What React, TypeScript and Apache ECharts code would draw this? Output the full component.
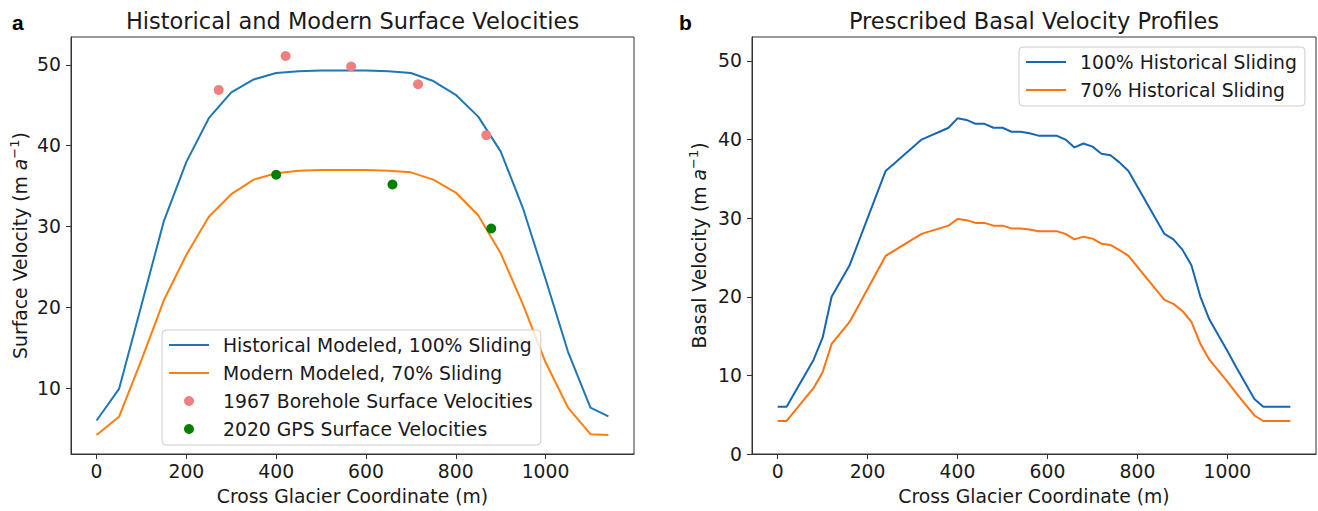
import React, { useEffect, useRef } from "react";
import * as echarts from "echarts";

// ---------- Panel a: surface velocities ----------
const surfX = [0, 50, 100, 150, 200, 250, 300, 350, 400, 450, 500, 550, 600, 650, 700, 750, 800, 850, 900, 950, 1000, 1050, 1100, 1140];
const historicalModeled = [6.0, 9.9, 20.3, 30.7, 38.0, 43.4, 46.6, 48.2, 49.0, 49.2, 49.3, 49.3, 49.3, 49.2, 49.0, 48.0, 46.3, 43.6, 39.3, 32.2, 23.5, 14.5, 7.6, 6.5];
const modernModeled = [4.2, 6.45, 13.5, 20.9, 26.5, 31.2, 34.0, 35.8, 36.6, 36.9, 37.0, 37.0, 37.0, 36.9, 36.7, 35.8, 34.2, 31.4, 26.7, 20.3, 13.2, 7.6, 4.3, 4.2];
const boreholeX = [272, 421, 567, 716, 868];
const boreholeV = [46.9, 51.1, 49.8, 47.6, 41.3];
const gpsX = [400, 659, 879];
const gpsV = [36.4, 35.2, 29.75];

// ---------- Panel b: basal velocities ----------
const basalX = [0, 20, 40, 60, 80, 100, 120, 140, 160, 180, 200, 220, 240, 260, 280, 300, 320, 340, 360, 380, 400, 420, 440, 460, 480, 500, 520, 540, 560, 580, 600, 620, 640, 660, 680, 700, 720, 740, 760, 780, 800, 820, 840, 860, 880, 900, 920, 940, 960, 980, 1000, 1020, 1040, 1060, 1080, 1100, 1120, 1140];
const basal100 = [6.0, 6.0, 8.0, 10.0, 12.0, 14.8, 20.0, 22.0, 24.0, 27.0, 30.0, 33.0, 36.0, 37.0, 38.0, 39.0, 40.0, 40.5, 41.0, 41.5, 42.7, 42.5, 42.0, 42.0, 41.5, 41.5, 41.0, 41.0, 40.8, 40.5, 40.5, 40.5, 40.0, 39.0, 39.5, 39.1, 38.2, 38.0, 37.1, 36.0, 34.0, 32.0, 30.0, 28.0, 27.3, 26.0, 24.0, 20.0, 17.1, 15.1, 13.1, 11.0, 9.0, 7.0, 6.0, 6.0, 6.0, 6.0];
const basal70 = [4.2, 4.2, 5.6, 7.0, 8.4, 10.4, 14.0, 15.4, 16.8, 18.9, 21.0, 23.1, 25.2, 25.9, 26.6, 27.3, 28.0, 28.35, 28.7, 29.05, 29.9, 29.75, 29.4, 29.4, 29.05, 29.05, 28.7, 28.7, 28.55, 28.35, 28.35, 28.35, 28.0, 27.3, 27.65, 27.4, 26.75, 26.6, 25.95, 25.2, 23.8, 22.4, 21.0, 19.6, 19.1, 18.2, 16.8, 14.0, 12.0, 10.6, 9.2, 7.7, 6.3, 4.9, 4.2, 4.2, 4.2, 4.2];

const xTicks = [0, 200, 400, 600, 800, 1000];
const yTicksA = [10, 20, 30, 40, 50];
const yTicksB = [0, 10, 20, 30, 40, 50];

const FONT = "DejaVu Sans";
const FS = 18.8;
const AX = "#333";
const TXT = "#1a1a1a";
const LINE_ICON = "path://M0,0L40,0L40,2L0,2Z";

const zip = (xs: number[], ys: number[]) => xs.map((x, i) => [x, ys[i]]);
const plain = (v: number) => String(v);

function xAxisCfg(gridIndex: number) {
  return {
    type: "value",
    gridIndex,
    min: -57,
    max: 1197,
    name: "Cross Glacier Coordinate (m)",
    nameLocation: "middle",
    nameGap: 33,
    nameTextStyle: { fontFamily: FONT, fontSize: FS, color: TXT },
    axisLine: { show: true, onZero: false, lineStyle: { color: AX, width: 1 } },
    axisTick: { show: true, length: 5, customValues: xTicks, lineStyle: { color: AX } },
    axisLabel: { customValues: xTicks, formatter: plain, fontFamily: FONT, fontSize: FS, color: TXT, margin: 8 },
    splitLine: { show: false },
  };
}

function yAxisCfg(gridIndex: number, min: number, max: number, ticks: number[], label: string, gap: number) {
  return {
    type: "value",
    gridIndex,
    min,
    max,
    name: `{n|${label} (m }{i|a}{s|−1}{n|)}`,
    nameLocation: "middle",
    nameGap: gap,
    nameTextStyle: {
      fontFamily: FONT,
      fontSize: FS,
      color: TXT,
      rich: {
        n: { fontFamily: FONT, fontSize: FS, color: TXT, lineHeight: 24 },
        i: { fontFamily: FONT, fontSize: FS, color: TXT, fontStyle: "italic", lineHeight: 24 },
        s: { fontFamily: FONT, fontSize: 13, color: TXT, lineHeight: 13, verticalAlign: "top" },
      },
    },
    axisLine: { show: true, onZero: false, lineStyle: { color: AX, width: 1 } },
    axisTick: { show: true, length: 5, customValues: ticks, lineStyle: { color: AX } },
    axisLabel: { customValues: ticks, formatter: plain, fontFamily: FONT, fontSize: FS, color: TXT, margin: 10 },
    splitLine: { show: false },
  };
}

function legendCfg(left: number, top: number, data: any[]) {
  return {
    orient: "vertical",
    left,
    top,
    data,
    itemWidth: 40,
    itemHeight: 10,
    itemGap: 8,
    padding: [5, 8, 6, 7],
    backgroundColor: "rgba(255,255,255,0.8)",
    borderColor: "#cccccc",
    borderWidth: 1,
    borderRadius: 4,
    selectedMode: false,
    textStyle: { fontFamily: FONT, fontSize: FS, color: TXT, lineHeight: 20, padding: [0, 0, 0, 9] },
  };
}

export default function App() {
  const ref = useRef<HTMLDivElement>(null);
  useEffect(() => {
    const chart = echarts.init(ref.current!, null, { renderer: "svg" });
    const option: any = {
      animation: false,
      backgroundColor: "#ffffff",
      grid: [
        { left: 71, top: 37, width: 563, height: 420, show: true, borderColor: AX, borderWidth: 1, backgroundColor: "transparent" },
        { left: 752, top: 37, width: 564, height: 420, show: true, borderColor: AX, borderWidth: 1, backgroundColor: "transparent" },
      ],
      xAxis: [xAxisCfg(0), xAxisCfg(1)],
      yAxis: [
        yAxisCfg(0, 1.85, 53.45, yTicksA, "Surface Velocity", 39),
        yAxisCfg(1, 0, 53.05, yTicksB, "Basal Velocity", 41),
      ],
      legend: [
        legendCfg(162, 330, [
          { name: "Historical Modeled, 100% Sliding", icon: LINE_ICON },
          { name: "Modern Modeled, 70% Sliding", icon: LINE_ICON },
          { name: "1967 Borehole Surface Velocities", icon: "circle" },
          { name: "2020 GPS Surface Velocities", icon: "circle" },
        ]),
        legendCfg(1019, 47, [
          { name: "100% Historical Sliding", icon: LINE_ICON },
          { name: "70% Historical Sliding", icon: LINE_ICON },
        ]),
      ],
      graphic: [
        { type: "text", x: 352.5, y: 21, style: { text: "Historical and Modern Surface Velocities", font: `22.5px "${FONT}"`, fill: TXT, textAlign: "center", textVerticalAlign: "middle" } },
        { type: "text", x: 1034, y: 21, style: { text: "Prescribed Basal Velocity Profiles", font: `22.5px "${FONT}"`, fill: TXT, textAlign: "center", textVerticalAlign: "middle" } },
        { type: "text", x: 12, y: 22, style: { text: "a", font: `bold 21px "Liberation Sans"`, fill: "#000", textAlign: "left", textVerticalAlign: "middle" } },
        { type: "text", x: 679, y: 22, style: { text: "b", font: `bold 21px "Liberation Sans"`, fill: "#000", textAlign: "left", textVerticalAlign: "middle" } },
      ],
      series: [
        { name: "Historical Modeled, 100% Sliding", type: "line", xAxisIndex: 0, yAxisIndex: 0, data: zip(surfX, historicalModeled), symbol: "none", lineStyle: { color: "#1f77b4", width: 2 }, itemStyle: { color: "#1f77b4" } },
        { name: "Modern Modeled, 70% Sliding", type: "line", xAxisIndex: 0, yAxisIndex: 0, data: zip(surfX, modernModeled), symbol: "none", lineStyle: { color: "#ff7f0e", width: 2 }, itemStyle: { color: "#ff7f0e" } },
        { name: "1967 Borehole Surface Velocities", type: "scatter", xAxisIndex: 0, yAxisIndex: 0, data: zip(boreholeX, boreholeV), symbol: "circle", symbolSize: 10, itemStyle: { color: "#f08080", opacity: 1 }, z: 3 },
        { name: "2020 GPS Surface Velocities", type: "scatter", xAxisIndex: 0, yAxisIndex: 0, data: zip(gpsX, gpsV), symbol: "circle", symbolSize: 10, itemStyle: { color: "#008000", opacity: 1 }, z: 3 },
        { name: "100% Historical Sliding", type: "line", xAxisIndex: 1, yAxisIndex: 1, data: zip(basalX, basal100), symbol: "none", lineStyle: { color: "#1666b0", width: 2 }, itemStyle: { color: "#1666b0" } },
        { name: "70% Historical Sliding", type: "line", xAxisIndex: 1, yAxisIndex: 1, data: zip(basalX, basal70), symbol: "none", lineStyle: { color: "#ff7212", width: 2 }, itemStyle: { color: "#ff7212" } },
      ],
    };
    chart.setOption(option);
    return () => chart.dispose();
  }, []);
  return <div ref={ref} style={{ position: "fixed", left: 0, top: 0, width: 1318, height: 511, background: "#fff" }} />;
}
